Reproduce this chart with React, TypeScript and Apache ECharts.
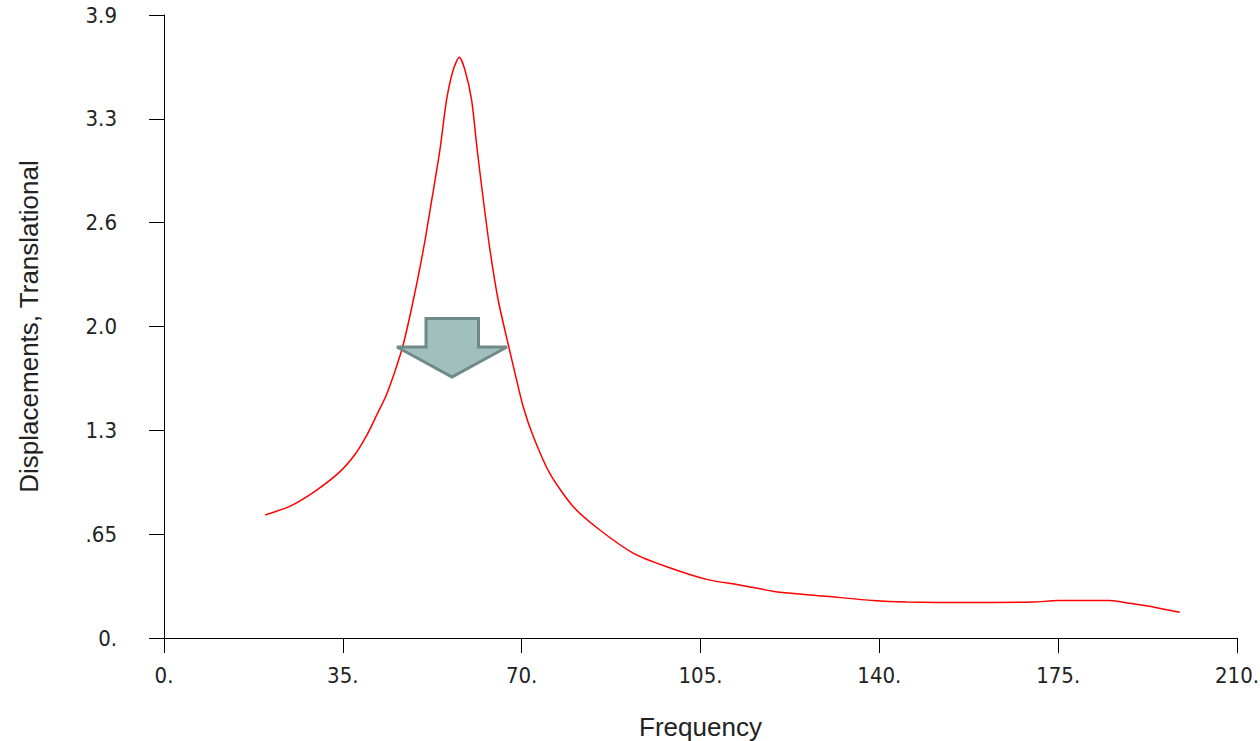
import React, { useEffect, useRef } from "react";
import * as echarts from "echarts";

const freqValues = [
  19.8, 24.7, 29.6, 34.4, 37.4, 39.7, 41.7, 43.5, 45.2, 46.8, 48.8, 50.75, 52.4, 54.0, 55.3, 56.6, 57.8,
  58.9, 60.2, 61.3, 62.5, 63.8, 65.4, 67.4, 68.7, 70.3, 72.3, 75.5, 80.1, 85.3, 91.9, 98.4, 106.2,
  112.7, 120.6, 129.0, 138.8, 145.4, 157.0, 170.1, 175.0, 185.1, 189.1, 194.3, 198.8,
];
const dispValues = [
  0.77, 0.826, 0.92, 1.04, 1.15, 1.27, 1.4, 1.52, 1.67, 1.834, 2.116, 2.429, 2.742, 3.055, 3.368, 3.556, 3.635,
  3.556, 3.368, 3.055, 2.742, 2.429, 2.116, 1.834, 1.657, 1.448, 1.26, 1.031, 0.822, 0.676, 0.53, 0.446, 0.367,
  0.332, 0.286, 0.263, 0.234, 0.225, 0.222, 0.225, 0.234, 0.234, 0.217, 0.19, 0.161,
];

const xTickValues = [0, 35, 70, 105, 140, 175, 210];
const xTickLabels = ["0.", "35.", "70.", "105.", "140.", "175.", "210."];
const yTickValues = [0, 0.65, 1.3, 1.95, 2.6, 3.25, 3.9];
const yTickLabels = ["0.", ".65", "1.3", "2.0", "2.6", "3.3", "3.9"];

const xAxisTitle = "Frequency";
const yAxisTitle = "Displacements, Translational";

const tickFont = "'Liberation Sans Narrow', 'DejaVu Sans Condensed', 'Arial Narrow', sans-serif";
const titleFont = "'Liberation Sans', Arial, sans-serif";

function nearestLabel(values: number[], labels: string[], v: number): string {
  let best = 0;
  for (let i = 1; i < values.length; i++) {
    if (Math.abs(values[i] - v) < Math.abs(values[best] - v)) best = i;
  }
  return labels[best];
}

export default function App() {
  const ref = useRef<HTMLDivElement>(null);
  useEffect(() => {
    document.body.style.margin = "0";
    if (!ref.current) return;
    const chart = echarts.init(ref.current, undefined, { renderer: "svg" });
    const data = freqValues.map((f, i) => [f, dispValues[i]]);
    chart.setOption({
      animation: false,
      backgroundColor: "#ffffff",
      grid: { left: 164, right: 23, top: 15, bottom: 103, containLabel: false, outerBoundsMode: "none" },
      xAxis: {
        type: "value",
        min: 0,
        max: 210,
        interval: 35,
        name: xAxisTitle,
        nameLocation: "middle",
        nameGap: 76,
        nameTextStyle: { fontFamily: titleFont, fontSize: 26, color: "#222" },
        axisLine: { show: true, lineStyle: { color: "#000", width: 1 } },
        axisTick: { show: true, inside: false, length: 15, lineStyle: { color: "#000", width: 1 } },
        axisLabel: {
          margin: 26,
          fontFamily: tickFont,
          fontSize: 22,
          color: "#222",
          formatter: (v: number) => nearestLabel(xTickValues, xTickLabels, v),
        },
        splitLine: { show: false },
      },
      yAxis: {
        type: "value",
        min: 0,
        max: 3.9,
        interval: 0.65,
        name: yAxisTitle,
        nameLocation: "middle",
        nameGap: 122,
        nameTextStyle: { fontFamily: titleFont, fontSize: 26, color: "#222" },
        axisLine: { show: true, lineStyle: { color: "#000", width: 1 } },
        axisTick: { show: true, inside: false, length: 15, lineStyle: { color: "#000", width: 1 } },
        axisLabel: {
          margin: 47,
          fontFamily: tickFont,
          fontSize: 22,
          color: "#222",
          padding: [8, 0, 0, 0],
          formatter: (v: number) => nearestLabel(yTickValues, yTickLabels, v),
        },
        splitLine: { show: false },
      },
      series: [
        {
          type: "line",
          data,
          smooth: 0.25,
          showSymbol: false,
          lineStyle: { color: "#ff0000", width: 1.5 },
          z: 2,
        },
      ],
      graphic: [
        {
          type: "polygon",
          z: 100,
          shape: {
            points: [
              [397, 347],
              [426, 347],
              [426, 318.5],
              [478.5, 318.5],
              [478.5, 347],
              [507, 347],
              [452, 377],
            ],
          },
          style: { fill: "#a0bfbd", stroke: "#708a88", lineWidth: 3, lineJoin: "miter" },
        },
      ],
    });
    return () => chart.dispose();
  }, []);
  return <div ref={ref} style={{ width: 1260, height: 741 }} />;
}
